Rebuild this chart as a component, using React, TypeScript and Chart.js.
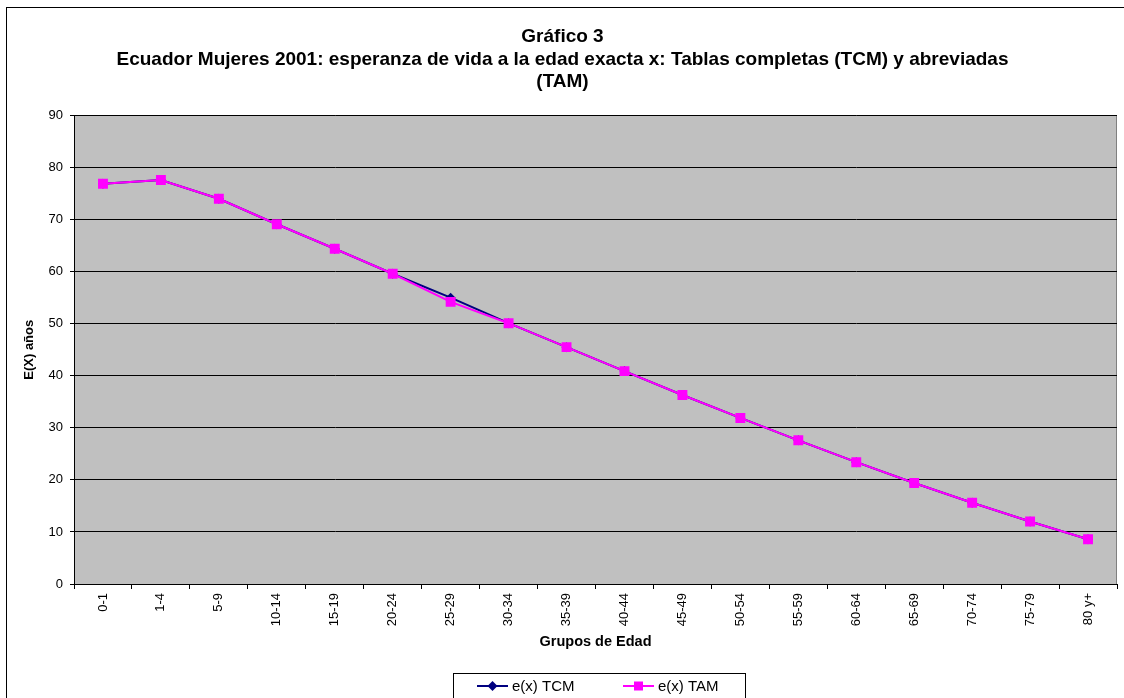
import React, { useEffect, useRef } from "react";
import { Chart, registerables } from "chart.js";

Chart.register(...registerables);

const categories = ["0-1", "1-4", "5-9", "10-14", "15-19", "20-24", "25-29", "30-34", "35-39", "40-44", "45-49", "50-54", "55-59", "60-64", "65-69", "70-74", "75-79", "80 y+"];
const tcmValues = [76.9, 77.6, 74.0, 69.1, 64.4, 59.6, 55.0, 50.1, 45.5, 40.9, 36.3, 31.9, 27.6, 23.4, 19.4, 15.6, 12.0, 8.6];
const tamValues = [76.9, 77.6, 74.0, 69.1, 64.4, 59.6, 54.2, 50.1, 45.5, 40.9, 36.3, 31.9, 27.6, 23.4, 19.4, 15.6, 12.0, 8.6];
const yTicks = [0, 10, 20, 30, 40, 50, 60, 70, 80, 90];
const titleLines = [
  "Gráfico 3",
  "Ecuador Mujeres 2001: esperanza de vida a la edad exacta x: Tablas completas (TCM) y abreviadas",
  "(TAM)",
];
const seriesNames = ["e(x) TCM", "e(x) TAM"];

const FONT = "'Liberation Sans', Arial, Helvetica, sans-serif";
const TCM_COLOR = "#000080";
const TAM_COLOR = "#FF00FF";

const decorPlugin = {
  id: "decor",
  beforeDraw(chart: any) {
    const { ctx, chartArea } = chart;
    ctx.save();
    ctx.fillStyle = "#FFFFFF";
    ctx.fillRect(0, 0, chart.width, chart.height);
    // outer chart border
    ctx.strokeStyle = "#000000";
    ctx.lineWidth = 1;
    ctx.strokeRect(6.5, 7.5, chart.width + 10, chart.height + 10);
    // plot area
    ctx.fillStyle = "#C0C0C0";
    ctx.fillRect(chartArea.left, chartArea.top, chartArea.right - chartArea.left, chartArea.bottom - chartArea.top);
    ctx.strokeStyle = "#808080";
    ctx.strokeRect(Math.round(chartArea.left) + 0.5, Math.round(chartArea.top) + 0.5, Math.round(chartArea.right - chartArea.left) - 1, Math.round(chartArea.bottom - chartArea.top));
    ctx.restore();
  },
  afterDraw(chart: any) {
    const { ctx } = chart;
    ctx.save();
    // legend box
    const bx = 453.5, by = 673.5, bw = 292;
    ctx.strokeStyle = "#000000";
    ctx.lineWidth = 1;
    ctx.strokeRect(bx, by, bw, 60);
    const cy = 686;
    const items = [
      { x0: 477, color: TCM_COLOR, style: "rectRot", label: seriesNames[0] },
      { x0: 623, color: TAM_COLOR, style: "rect", label: seriesNames[1] },
    ];
    ctx.font = `15px ${FONT}`;
    ctx.textBaseline = "middle";
    ctx.textAlign = "left";
    for (const it of items) {
      ctx.strokeStyle = it.color;
      ctx.lineWidth = 2;
      ctx.beginPath();
      ctx.moveTo(it.x0, cy);
      ctx.lineTo(it.x0 + 31, cy);
      ctx.stroke();
      ctx.fillStyle = it.color;
      if (it.style === "rect") {
        ctx.fillRect(it.x0 + 15.5 - 4.5, cy - 4.5, 9, 9);
      } else {
        ctx.beginPath();
        ctx.moveTo(it.x0 + 15.5, cy - 5);
        ctx.lineTo(it.x0 + 20.5, cy);
        ctx.lineTo(it.x0 + 15.5, cy + 5);
        ctx.lineTo(it.x0 + 10.5, cy);
        ctx.closePath();
        ctx.fill();
      }
      ctx.fillStyle = "#000000";
      ctx.fillText(it.label, it.x0 + 35, cy + 1);
    }
    ctx.restore();
  },
};

export default function App() {
  const canvasRef = useRef<HTMLCanvasElement | null>(null);

  useEffect(() => {
    const canvas = canvasRef.current;
    if (!canvas) return;
    const chart = new Chart(canvas, {
      type: "line",
      data: {
        labels: categories,
        datasets: [
          {
            label: seriesNames[0],
            data: tcmValues,
            borderColor: TCM_COLOR,
            backgroundColor: TCM_COLOR,
            borderWidth: 2,
            pointStyle: "rectRot",
            pointRadius: 5,
            pointBorderWidth: 0,
            tension: 0,
            order: 1,
          },
          {
            label: seriesNames[1],
            data: tamValues,
            borderColor: TAM_COLOR,
            backgroundColor: TAM_COLOR,
            borderWidth: 2,
            pointStyle: "rect",
            pointRadius: 7,
            pointBorderWidth: 0,
            tension: 0,
            order: 0,
          },
        ],
      },
      options: {
        responsive: false,
        animation: false,
        layout: { padding: { left: 8, right: 7, top: 0, bottom: 44 } },
        plugins: {
          legend: { display: false },
          tooltip: { enabled: false },
          title: {
            display: true,
            text: titleLines,
            color: "#000000",
            font: { family: FONT, size: 19, weight: "bold", lineHeight: 1.184 },
            padding: { top: 26, bottom: 22 },
          },
        },
        scales: {
          x: {
            type: "category",
            offset: true,
            grid: {
              offset: true,
              drawOnChartArea: false,
              drawTicks: true,
              tickLength: 5,
              color: "#000000",
            },
            border: { color: "#000000", width: 1 },
            ticks: {
              color: "#000000",
              font: { family: FONT, size: 13 },
              minRotation: 90,
              maxRotation: 90,
              autoSkip: false,
              padding: 4,
            },
            title: {
              display: true,
              text: "Grupos de Edad",
              color: "#000000",
              font: { family: FONT, size: 14.5, weight: "bold" },
              padding: { top: 0, bottom: 3 },
            },
            afterFit(scale: any) {
              scale.height = 70;
            },
          },
          y: {
            min: 0,
            max: 90,
            afterBuildTicks(scale: any) {
              scale.ticks = yTicks.map((v) => ({ value: v }));
            },
            grid: {
              color: "#000000",
              tickLength: 4,
              drawTicks: true,
            },
            border: { color: "#000000", width: 1 },
            ticks: {
              color: "#000000",
              font: { family: FONT, size: 13 },
              padding: 7,
            },
            title: {
              display: true,
              text: "E(X) años",
              color: "#000000",
              font: { family: FONT, size: 13, weight: "bold" },
              padding: { top: 14, bottom: 0 },
            },
            afterFit(scale: any) {
              scale.width = 66;
            },
          },
        },
      },
      plugins: [decorPlugin],
    });
    return () => chart.destroy();
  }, []);

  return (
    <div style={{ position: "fixed", left: 0, top: 0, width: 1124, height: 698, background: "#fff" }}>
      <canvas ref={canvasRef} width={1124} height={698} style={{ display: "block" }} />
    </div>
  );
}
